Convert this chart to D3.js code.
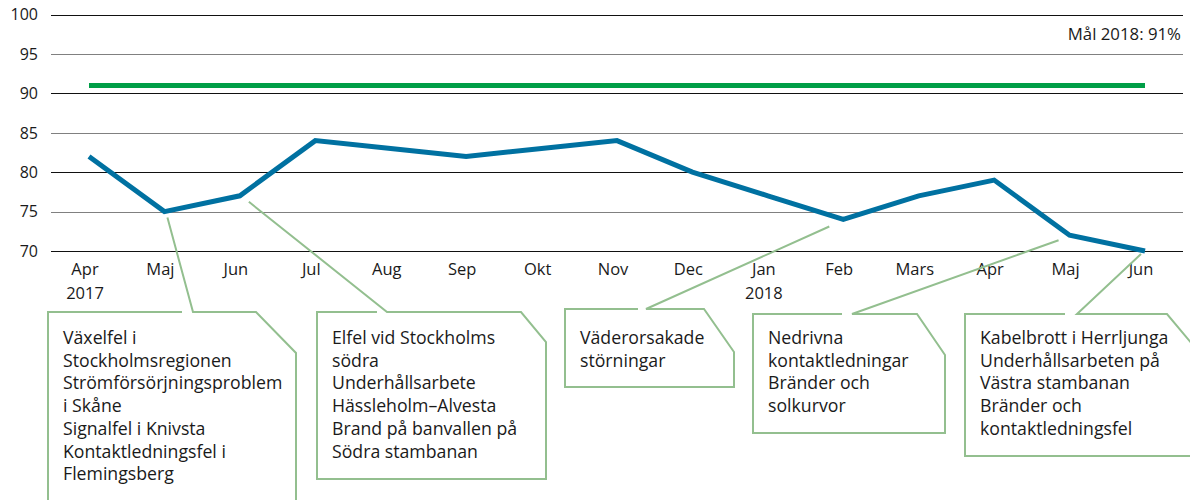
<!DOCTYPE html>
<html>
<head>
<meta charset="utf-8">
<script src="https://cdn.jsdelivr.net/npm/d3@7"></script>
<style>
  body { margin: 0; background: #fff; }
  svg text { font-family: "Open Sans", sans-serif; fill: #1a1a1a; }
</style>
</head>
<body>
<div id="chart"></div>
<script>
// data
const months = ["Apr", "Maj", "Jun", "Jul", "Aug", "Sep", "Okt", "Nov", "Dec", "Jan", "Feb", "Mars", "Apr", "Maj", "Jun"]
const years = ["2017", "", "", "", "", "", "", "", "", "2018", "", "", "", "", ""]
const values = [82, 75, 77, 84, 83, 82, 83, 84, 80, 77, 74, 77, 79, 72, 70]
const target = 91
const targetLabel = "Mål 2018: 91%"
const yTicks = [70, 75, 80, 85, 90, 95, 100]

// callout texts + which month they point at
const calloutTexts = [
  ["Växelfel i", "Stockholmsregionen", "Strömförsörjningsproblem", "i Skåne", "Signalfel i Knivsta", "Kontaktledningsfel i", "Flemingsberg"],
  ["Elfel vid Stockholms", "södra", "Underhållsarbete", "Hässleholm–Alvesta", "Brand på banvallen på", "Södra stambanan"],
  ["Väderorsakade", "störningar"],
  ["Nedrivna", "kontaktledningar", "Bränder och", "solkurvor"],
  ["Kabelbrott i Herrljunga", "Underhållsarbeten på", "Västra stambanan", "Bränder och", "kontaktledningsfel"]
]
const calloutIndex = [1, 2, 10, 13, 14]

// box layout (left, top, right, bottom, corner cut, gap in top edge, tip offset)
const boxLayout = [
  {x0: 48, y0: 312, x1: 296, y1: 520, cx: 40, cy: 41, g0: 182, g1: 193, dx: 3, dy: 6},
  {x0: 317, y0: 312, x1: 546, y1: 479, cx: 25, cy: 30, g0: 377, g1: 387, dx: 9, dy: 6},
  {x0: 565, y0: 309, x1: 734, y1: 387, cx: 30, cy: 43, g0: 638, g1: 646, dx: -14, dy: 7},
  {x0: 753, y0: 314, x1: 945, y1: 433, cx: 28, cy: 41, g0: 842, g1: 852, dx: -11, dy: 5},
  {x0: 965, y0: 314, x1: 1198, y1: 456, cx: 31, cy: 37, g0: 1065, g1: 1077, dx: -4, dy: 3}
]

const W = 1190, H = 500

const svg = d3.select("#chart").append("svg")
  .attr("width", W)
  .attr("height", H)

const x = d3.scalePoint()
  .domain(d3.range(months.length))
  .range([89, 1145])

const y = d3.scaleLinear()
  .domain([70, 100])
  .range([251, 14.5])

// grid
svg.append("g")
  .selectAll("line")
  .data(yTicks)
  .join("line")
    .attr("x1", 51)
    .attr("x2", 1183)
    .attr("y1", d => Math.round(y(d)) + 0.5)
    .attr("y2", d => Math.round(y(d)) + 0.5)
    .attr("stroke", d => d % 10 == 0 ? "#111" : "#808080")
    .attr("stroke-width", 1.2)

// y labels
svg.append("g")
  .selectAll("text")
  .data(yTicks)
  .join("text")
    .attr("x", 38)
    .attr("y", d => y(d))
    .attr("dy", "0.36em")
    .attr("text-anchor", "end")
    .style("font-size", "16px")
    .text(d => d)

// x labels
const xl = svg.append("g")
xl.selectAll("text.m")
  .data(months)
  .join("text")
    .attr("class", "m")
    .attr("x", (d, i) => x(i) - 4)
    .attr("y", 275)
    .attr("text-anchor", "middle")
    .style("font-size", "16.5px")
    .text(d => d)
xl.selectAll("text.yr")
  .data(years)
  .join("text")
    .attr("class", "yr")
    .attr("x", (d, i) => x(i) - 4)
    .attr("y", 299)
    .attr("text-anchor", "middle")
    .style("font-size", "16.5px")
    .text(d => d)

// target line
svg.append("line")
  .attr("x1", x(0))
  .attr("x2", x(months.length - 1))
  .attr("y1", y(target))
  .attr("y2", y(target))
  .attr("stroke", "#009e47")
  .attr("stroke-width", 5)

svg.append("text")
  .attr("x", 1181)
  .attr("y", 40)
  .attr("text-anchor", "end")
  .style("font-size", "16.8px")
  .text(targetLabel)

// main line
const line = d3.line()
  .x((d, i) => x(i))
  .y(d => y(d))

svg.append("path")
  .datum(values)
  .attr("d", line)
  .attr("fill", "none")
  .attr("stroke", "#0071a1")
  .attr("stroke-width", 5)

// callouts
const callouts = svg.append("g")
calloutTexts.forEach((lines, k) => {
  const b = boxLayout[k]
  const i = calloutIndex[k]
  const tx = x(i) + b.dx, ty = y(values[i]) + b.dy
  const p = d3.path()
  p.moveTo(b.g0, b.y0)
  p.lineTo(b.x0, b.y0)
  p.lineTo(b.x0, b.y1)
  p.lineTo(b.x1, b.y1)
  p.lineTo(b.x1, b.y0 + b.cy)
  p.lineTo(b.x1 - b.cx, b.y0)
  p.lineTo(b.g1, b.y0)
  p.lineTo(tx, ty)
  callouts.append("path")
    .attr("d", p.toString())
    .attr("fill", "none")
    .attr("stroke", "#93bf8f")
    .attr("stroke-width", 2)

  const t = callouts.append("text")
    .style("font-size", "17.7px")
  t.selectAll("tspan")
    .data(lines)
    .join("tspan")
      .attr("x", b.x0 + 15)
      .attr("y", (d, j) => 344 + j * 22.7)
      .text(d => d)
})
</script>
</body>
</html>
